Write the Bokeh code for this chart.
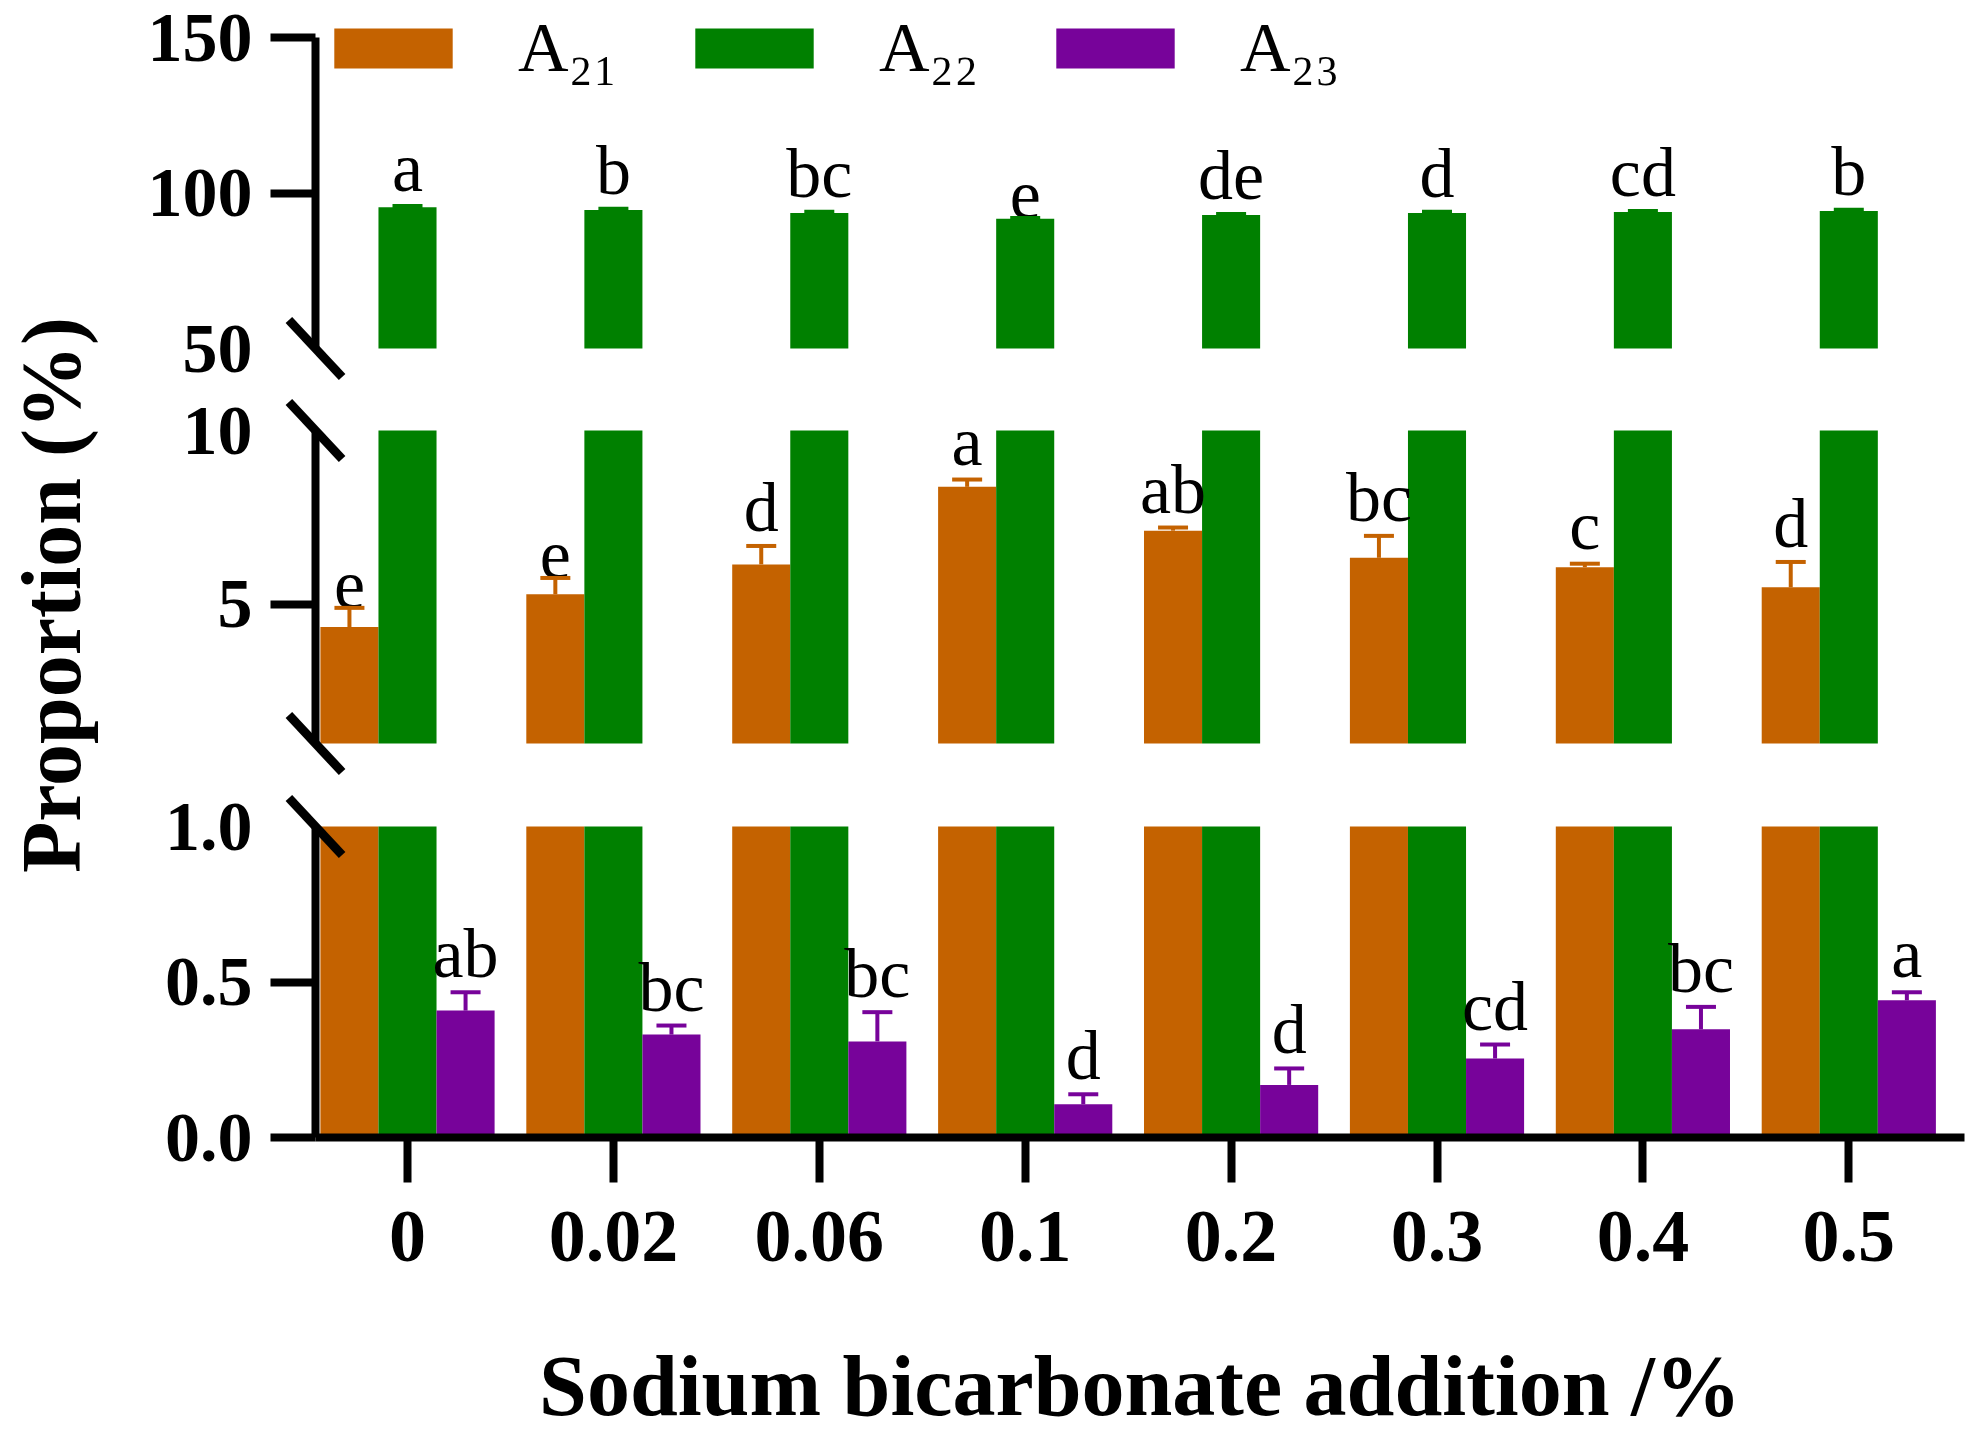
from bokeh.plotting import figure
from bokeh.models import (Range1d, LinearAxis, FixedTicker, PrintfTickFormatter,
                          ColumnDataSource, Whisker, TeeHead, Legend, LegendItem)
from bokeh.transform import dodge
from bokeh.core.properties import value
from bokeh.embed import file_html
from bokeh.resources import INLINE

# ---------------- data ----------------
categories = ["0", "0.02", "0.06", "0.1", "0.2", "0.3", "0.4", "0.5"]
a21 = [4.35, 5.29, 6.15, 8.38, 7.12, 6.34, 6.07, 5.49]
a21_err = [0.55, 0.47, 0.53, 0.21, 0.09, 0.63, 0.10, 0.73]
a21_letters = ["e", "e", "d", "a", "ab", "bc", "c", "d"]
a22 = [95.4, 94.5, 93.6, 91.7, 92.9, 93.6, 93.9, 94.2]
a22_err = [0.45, 0.40, 0.40, 0.30, 0.35, 0.40, 0.35, 0.45]
a22_letters = ["a", "b", "bc", "e", "de", "d", "cd", "b"]
a23 = [0.408, 0.331, 0.309, 0.107, 0.169, 0.254, 0.348, 0.441]
a23_err = [0.059, 0.029, 0.094, 0.032, 0.053, 0.045, 0.072, 0.026]
a23_letters = ["ab", "bc", "bc", "d", "d", "cd", "bc", "a"]
series_names = ["A\u2082\u2081", "A\u2082\u2082", "A\u2082\u2083"]
y_title = "Proportion (%)"
x_title = "Sodium bicarbonate addition /%"

# ---------------- layout (canvas px) ----------------
W, H = 1966, 1440
X_AXIS_END = 1964
CAT0_X, CAT_STEP = 407, 205.9
AXIS_X = 315
BAR_W = 0.282
SEG_TOP = (50, 348, 150, 37)    # (low value, px, high value, px)
SEG_MID = (1, 743, 10, 430)
SEG_BOT = (0, 1137, 1, 826)

C21, C22, C23 = "#C46200", "#008000", "#77039A"
SERIF = "Liberation Serif"


def xdata(px):
    return (px - CAT0_X) / CAT_STEP


def seg_range(lo, ylo, hi, yhi):
    k = (ylo - yhi) / (hi - lo)
    return Range1d(lo - (H - ylo) / k, hi + yhi / k)


p = figure(width=W, height=H, output_backend="svg", toolbar_location=None,
           x_range=Range1d(xdata(0), xdata(W)),
           y_range=seg_range(*SEG_BOT),
           x_axis_location=None, y_axis_location=None,
           min_border_left=0, min_border_right=0,
           min_border_top=0, min_border_bottom=0)
p.extra_y_ranges = {"mid": seg_range(*SEG_MID), "top": seg_range(*SEG_TOP)}
p.xgrid.visible = False
p.ygrid.visible = False
p.outline_line_color = None
p.background_fill_color = "white"
p.border_fill_color = "white"

src = ColumnDataSource(dict(
    idx=list(range(len(categories))),
    a21=a21, a22=a22, a23=a23,
    a21_low=[min(v, SEG_BOT[2]) for v in a21],
    a22_low=[min(v, SEG_BOT[2]) for v in a22],
    a22_mid=[min(v, SEG_MID[2]) for v in a22],
    a21_hi=[v + e for v, e in zip(a21, a21_err)],
    a22_hi=[v + e for v, e in zip(a22, a22_err)],
    a23_hi=[v + e for v, e in zip(a23, a23_err)],
    a21_lab=a21_letters, a22_lab=a22_letters, a23_lab=a23_letters,
))

offsets = {"a21": -BAR_W, "a22": 0.0, "a23": BAR_W}


def xs(key):
    return dodge("idx", offsets[key], range=p.x_range)


bar_kw = dict(width=BAR_W, line_color=None, source=src)
# bottom segment (0 - 1)
r21 = p.vbar(x=xs("a21"), bottom=SEG_BOT[0], top="a21_low", fill_color=C21, **bar_kw)
r22 = p.vbar(x=xs("a22"), bottom=SEG_BOT[0], top="a22_low", fill_color=C22, **bar_kw)
r23 = p.vbar(x=xs("a23"), bottom=SEG_BOT[0], top="a23", fill_color=C23, **bar_kw)
# middle segment (1 - 10)
p.vbar(x=xs("a21"), bottom=SEG_MID[0], top="a21", fill_color=C21, y_range_name="mid", **bar_kw)
p.vbar(x=xs("a22"), bottom=SEG_MID[0], top="a22_mid", fill_color=C22, y_range_name="mid", **bar_kw)
# top segment (50 - 150)
p.vbar(x=xs("a22"), bottom=SEG_TOP[0], top="a22", fill_color=C22, y_range_name="top", **bar_kw)

# error bars (upper only) and significance letters
for key, col, rng in [("a21", C21, "mid"), ("a22", C22, "top"), ("a23", C23, "default")]:
    wk = Whisker(source=src, base=xs(key), lower=key, upper=key + "_hi",
                 dimension="height", line_color=col, line_width=4,
                 upper_head=TeeHead(size=30, line_color=col, line_width=4),
                 lower_head=None, y_range_name=rng, level="annotation")
    p.add_layout(wk)
    p.text(x=xs(key), y=key + "_hi", text=key + "_lab", source=src, y_range_name=rng,
           text_font=value(SERIF), text_font_size="70px", text_color="black",
           text_align="center", text_baseline="bottom")


# ---------------- y axes (broken) ----------------
def add_yaxis(rng, ticks, bounds=None, line=True, fmt=None, label=None):
    ax = LinearAxis(y_range_name=rng, ticker=FixedTicker(ticks=ticks),
                    fixed_location=xdata(AXIS_X))
    if bounds is not None:
        ax.bounds = bounds
    ax.axis_line_width = 8
    ax.axis_line_color = "black"
    ax.major_tick_line_width = 8
    ax.major_tick_line_color = "black"
    ax.major_tick_out = 45
    ax.major_tick_in = 0
    ax.minor_tick_line_color = None
    ax.major_label_text_font = SERIF
    ax.major_label_text_font_style = "bold"
    ax.major_label_text_font_size = "70px"
    ax.major_label_text_color = "black"
    ax.major_label_standoff = 18
    if not line:
        ax.axis_line_color = None
        ax.major_tick_line_color = None
    if fmt:
        ax.formatter = PrintfTickFormatter(format=fmt)
    if label:
        ax.axis_label = label
        ax.axis_label_text_font = SERIF
        ax.axis_label_text_font_style = "bold"
        ax.axis_label_text_font_size = "84px"
        ax.axis_label_text_color = "black"
        ax.axis_label_standoff = 82
    p.add_layout(ax, "left")
    return ax


add_yaxis("top", [100, 150], bounds=(SEG_TOP[0], SEG_TOP[2]))
add_yaxis("top", [SEG_TOP[0]], line=False)
add_yaxis("mid", [5], bounds=(SEG_MID[0], SEG_MID[2]))
add_yaxis("mid", [SEG_MID[2]], line=False, bounds=(0.0, 10.56), label=y_title)
add_yaxis("default", [0, 0.5], bounds=(SEG_BOT[0], SEG_BOT[2]), fmt="%.1f")
add_yaxis("default", [SEG_BOT[2]], line=False, fmt="%.1f")

# break marks on the y axis
brk = dict(marker="dash", size=78, angle=-0.82, line_color="black", line_width=9)
p.scatter(x=[xdata(AXIS_X)], y=[SEG_TOP[0]], y_range_name="top", **brk)
p.scatter(x=[xdata(AXIS_X)] * 2, y=[SEG_MID[0], SEG_MID[2]], y_range_name="mid", **brk)
p.scatter(x=[xdata(AXIS_X)], y=[SEG_BOT[2]], **brk)

# ---------------- x axis ----------------
xa = LinearAxis(ticker=FixedTicker(ticks=list(range(len(categories)))),
                fixed_location=SEG_BOT[0],
                bounds=(xdata(AXIS_X), xdata(X_AXIS_END)))
xa.major_label_overrides = {i: c for i, c in enumerate(categories)}
xa.axis_line_width = 8
xa.axis_line_color = "black"
xa.major_tick_line_width = 8
xa.major_tick_line_color = "black"
xa.major_tick_out = 45
xa.major_tick_in = 0
xa.minor_tick_line_color = None
xa.major_label_text_font = SERIF
xa.major_label_text_font_style = "bold"
xa.major_label_text_font_size = "74px"
xa.major_label_text_color = "black"
xa.major_label_standoff = 29
xa.axis_label = x_title
xa.axis_label_text_font = SERIF
xa.axis_label_text_font_style = "bold"
xa.axis_label_text_font_size = "86px"
xa.axis_label_text_color = "black"
xa.axis_label_standoff = 74
p.add_layout(xa, "below")

# ---------------- legend ----------------
legend = Legend(items=[LegendItem(label=series_names[0], renderers=[r21]),
                       LegendItem(label=series_names[1], renderers=[r22]),
                       LegendItem(label=series_names[2], renderers=[r23])],
                orientation="horizontal", location=(319, 1352),
                glyph_width=148, glyph_height=50, label_standoff=51,
                label_width=100, spacing=62, padding=0, margin=0,
                border_line_color=None, background_fill_alpha=0,
                label_text_font=SERIF, label_text_font_size="70px",
                label_text_color="black")
p.add_layout(legend)

open("out.html", "w").write(file_html(p, INLINE))
